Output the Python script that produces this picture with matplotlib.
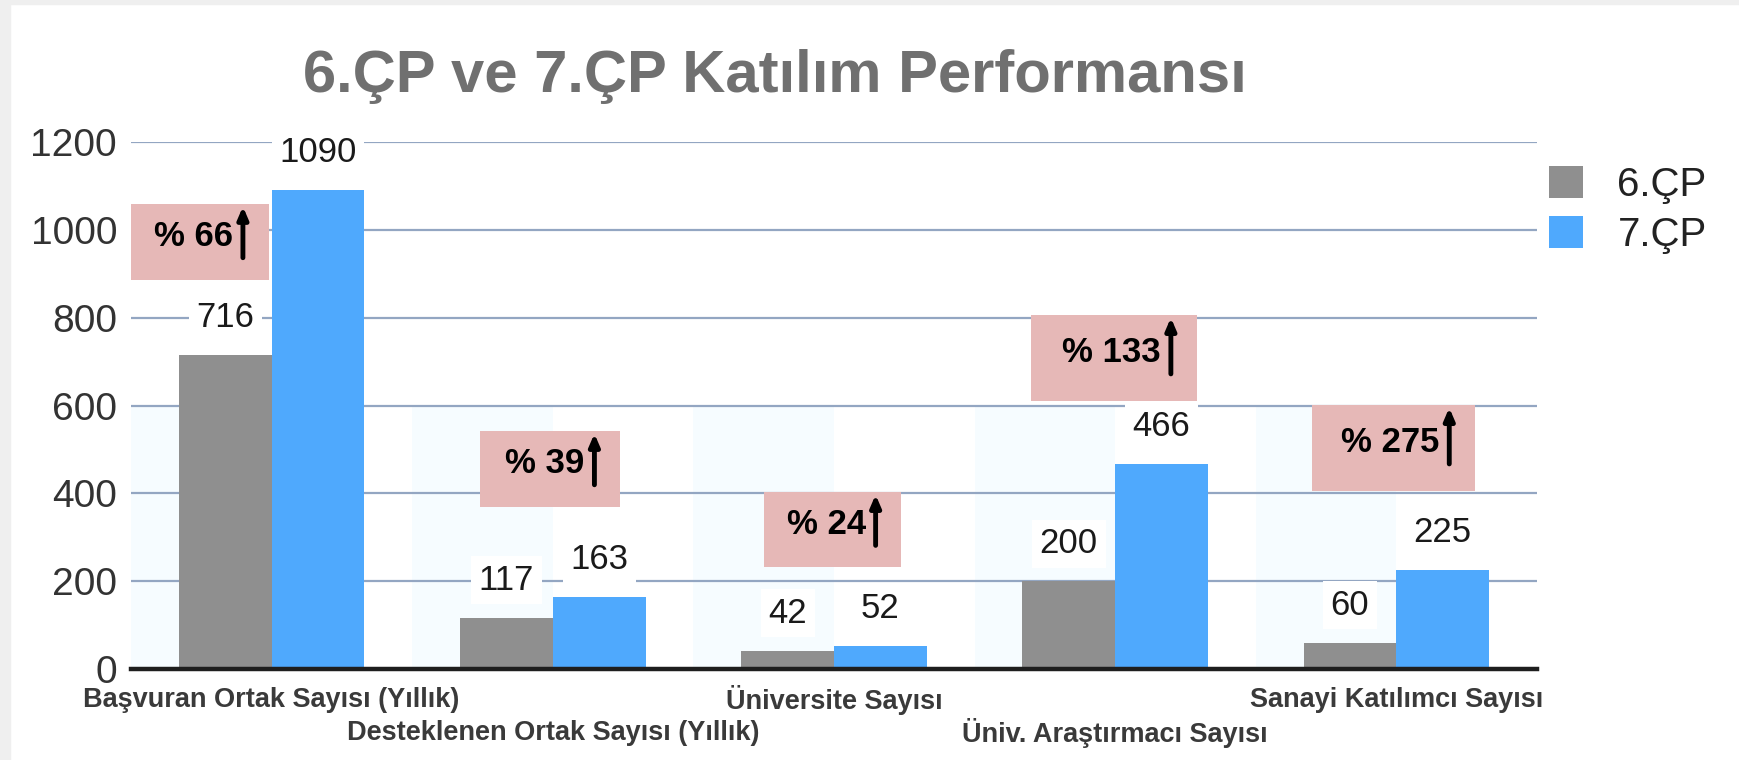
import numpy as np
import matplotlib
matplotlib.use('Agg')
import matplotlib.pyplot as plt
from matplotlib.patches import Rectangle

plt.rcParams['font.family'] = ['Liberation Sans', 'DejaVu Sans']

# data
categories = ['Başvuran Ortak Sayısı (Yıllık)', 'Desteklenen Ortak Sayısı (Yıllık)',
              'Üniversite Sayısı', 'Üniv. Araştırmacı Sayısı', 'Sanayi Katılımcı Sayısı']
fp6 = [716, 117, 42, 200, 60]
fp7 = [1090, 163, 52, 466, 225]
series_names = ['6.ÇP', '7.ÇP']
pct_labels = ['% 66', '% 39', '% 24', '% 133', '% 275']
yticks = [0, 200, 400, 600, 800, 1000, 1200]

# pink boxes (x0, x1, y0, y1) in data units
box_x0 = [-0.50, 0.74, 1.75, 2.70, 3.70]
box_x1 = [-0.01, 1.24, 2.24, 3.29, 4.28]
box_y0 = [886, 369, 232, 610, 405]
box_y1 = [1059, 542, 403, 806, 601]

GRAY = '#8f8f8f'
BLUE = '#4fa9fd'
PINK = '#e6b8b7'
GRID = '#93a6c2'

fig = plt.figure(figsize=(17.39, 7.6), dpi=100)
fig.patch.set_facecolor('white')
# light frame strips on the left and top edge
fig.patches.append(Rectangle((0, 0), 10 / 1739, 1, transform=fig.transFigure, color='#efefef', zorder=0))
fig.patches.append(Rectangle((0, 1 - 4 / 760), 1, 4 / 760, transform=fig.transFigure, color='#efefef', zorder=0))

ax = fig.add_axes([131 / 1739, 1 - 669 / 760, (1537 - 131) / 1739, (669 - 142) / 760])
x = np.arange(len(categories))
w = 0.33

# faint tinted columns
for xi in x:
    ax.add_patch(Rectangle((xi - 0.5, 0), 0.5, 600, color='#f6fcff', zorder=0, lw=0))

ax.set_xlim(-0.5, 4.5)
ax.set_ylim(0, 1200)
ax.set_yticks(yticks)
for yv in yticks[1:]:
    ax.axhline(yv, color=GRID, lw=1.6, zorder=1)
ax.axhline(0, color='#1e1e1e', lw=3.2, zorder=4, clip_on=False)

b6 = ax.bar(x - w / 2, fp6, w, color=GRAY, zorder=3, label=series_names[0])
b7 = ax.bar(x + w / 2, fp7, w, color=BLUE, zorder=3, label=series_names[1])

for bars, vals in ((b6, fp6), (b7, fp7)):
    for r, v in zip(bars, vals):
        ax.annotate(str(v), (r.get_x() + r.get_width() / 2, v), xytext=(0, 27),
                    textcoords='offset points', ha='center', va='center',
                    fontsize=25, color='#1a1a1a', zorder=5,
                    bbox=dict(boxstyle='square,pad=0.22', fc='white', ec='none'))

# percentage boxes with up arrows
for lab, x0, x1, y0, y1 in zip(pct_labels, box_x0, box_x1, box_y0, box_y1):
    ax.add_patch(Rectangle((x0, y0), x1 - x0, y1 - y0, color=PINK, zorder=6, lw=0))
    mid = (y0 + y1) / 2
    arr_x = x1 - 0.092
    ax.text(arr_x - 0.035, mid + 12, lab, ha='right', va='center', fontsize=25,
            fontweight='bold', color='black', zorder=7)
    ax.annotate('', xy=(arr_x, y1 - 6), xytext=(arr_x, mid - 36),
                arrowprops=dict(arrowstyle='-|>,head_width=0.3,head_length=0.7',
                                lw=3.5, color='black', shrinkA=0, shrinkB=0),
                zorder=7)

for s in ax.spines.values():
    s.set_visible(False)
ax.tick_params(axis='y', length=0, pad=10, labelsize=28, labelcolor='#333333')
ax.set_xticks([])

# category labels on two staggered rows
for i, c in enumerate(categories):
    yoff = 700 if i % 2 == 0 else 733
    fig.text((131 + (i + 0.5) * 281.2) / 1739, 1 - yoff / 760, c, ha='center', va='center',
             fontsize=19.5, fontweight='bold', color='#3a3a3a')

fig.text(775 / 1739, 1 - 76 / 760, '6.ÇP ve 7.ÇP Katılım Performansı', ha='center', va='center',
         fontsize=43, fontweight='bold', color='#707070')

fig.legend(handles=[b6, b7], loc='upper left', bbox_to_anchor=(1549 / 1739, 1 - 166 / 760),
           frameon=False, fontsize=29, handlelength=0.85, handleheight=0.85,
           handletextpad=0.85, labelspacing=0.3, borderpad=0, borderaxespad=0,
           labelcolor='#222222')

fig.savefig('out.png', dpi=100)
